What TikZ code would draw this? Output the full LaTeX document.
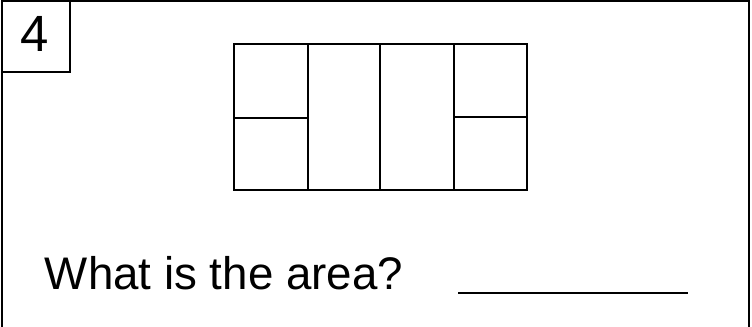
\documentclass[tikz,border=0pt]{standalone}
\usepackage{fontspec}
\setmainfont{Liberation Sans}
\begin{document}
\begin{tikzpicture}[x=0.02cm,y=-0.02cm,line width=1.1pt]
      \useasboundingbox (0,0) rectangle (752,327) ;
      % frame and number box
      \draw (2,330)--(2,1)--(749,1)--(749,330) ;
      \draw[line width=1.6pt] (2,1)--(2,330) ;
      \draw (2,72)--(70,72)--(70,1) ;
      \node[inner sep=0pt,font=\fontsize{29}{32}\selectfont] %
      (num) at (35,34) {4} ;
      % rectangle cut in pieces
      \draw (234,44) rectangle (527,190) ;
      \foreach \x in {308,380,454}
        \draw (\x,44)--(\x,190) ;
      \draw (234,118)--(308,118) ;
      \draw (454,117)--(527,117) ;
      % question and answer line
      \node[inner sep=0pt,anchor=base west,font=\fontsize{26}{30}\selectfont] %
      (ask) at (44,290) {What is the area?} ;
      \coordinate (ansA) at (458,293) ;
      \coordinate (ansB) at (688,293) ;
      \draw (ansA)--(ansB) ;
    \end{tikzpicture}
\end{document}
